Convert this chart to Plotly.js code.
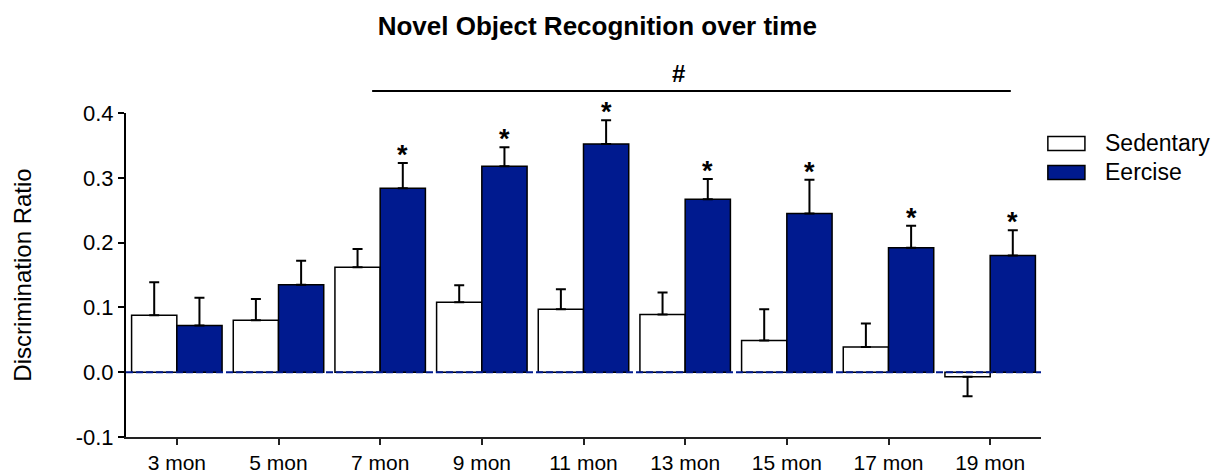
<!DOCTYPE html>
<html>
<head>
<meta charset="utf-8">
<script src="https://cdn.plot.ly/plotly-3.0.1.min.js"></script>
<style>html,body{margin:0;padding:0;background:#fff;}#chart{width:1219px;height:476px;}</style>
</head>
<body>
<div id="chart"></div>
<script>
const categories = ['3 mon','5 mon','7 mon','9 mon','11 mon','13 mon','15 mon','17 mon','19 mon'];
const sedentary = [0.088, 0.080, 0.162, 0.108, 0.097, 0.089, 0.049, 0.039, -0.007];
const sedentaryErr = [0.051, 0.033, 0.028, 0.026, 0.031, 0.034, 0.048, 0.036, 0.030];
const exercise = [0.072, 0.135, 0.284, 0.318, 0.352, 0.267, 0.245, 0.192, 0.180];
const exerciseErr = [0.043, 0.037, 0.039, 0.029, 0.037, 0.031, 0.052, 0.034, 0.039];
const exerciseSig = ['', '', '*', '*', '*', '*', '*', '*', '*'];
const yTickVals = [-0.1, 0.0, 0.1, 0.2, 0.3, 0.4];
const yTickText = ['-0.1', '0.0', '0.1', '0.2', '0.3', '0.4'];

const FONT = 'Arial, "Liberation Sans", sans-serif';
const BARGAP = 0.11;

function plusOf(v, e) { return v.map((x, i) => x >= 0 ? e[i] : 0); }
function minusOf(v, e) { return v.map((x, i) => x < 0 ? e[i] : 0); }

const errStyle = {color: '#000', thickness: 2, width: 5};

const traces = [
  {
    type: 'bar', name: 'Sedentary', x: categories, y: sedentary,
    marker: {color: '#ffffff', line: {color: '#000', width: 1.5}},
    error_y: Object.assign({type: 'data', symmetric: false,
      array: plusOf(sedentary, sedentaryErr), arrayminus: minusOf(sedentary, sedentaryErr)}, errStyle)
  },
  {
    type: 'bar', name: 'Eercise', x: categories, y: exercise,
    marker: {color: '#001a8f', line: {color: '#000', width: 1.5}},
    error_y: Object.assign({type: 'data', symmetric: false,
      array: plusOf(exercise, exerciseErr), arrayminus: minusOf(exercise, exerciseErr)}, errStyle)
  }
];

const offset = (1 - BARGAP) / 4;
const annotations = [];
exerciseSig.forEach((s, i) => {
  if (!s) return;
  annotations.push({
    x: i + offset, xref: 'x', y: exercise[i] + exerciseErr[i], yref: 'y',
    text: '<b>' + s + '</b>', showarrow: false, xanchor: 'center', yanchor: 'bottom',
    yshift: -9, font: {family: FONT, size: 27, color: '#000'}
  });
});
annotations.push({
  x: 0.6035, xref: 'paper', y: 1.1225, yref: 'paper', text: '<b>#</b>', showarrow: false,
  xanchor: 'center', yanchor: 'middle', font: {family: FONT, size: 24, color: '#000'}
});

// custom legend (wide box swatches) built from the traces
const shapes = [
  {type: 'line', xref: 'paper', x0: 0, x1: 1, yref: 'y', y0: 0, y1: 0,
   line: {color: '#001a8f', width: 2, dash: '7px,3px'}, layer: 'above'},
  {type: 'line', xref: 'paper', x0: 0.269, x1: 0.967, yref: 'paper', y0: 1.068, y1: 1.068,
   line: {color: '#000', width: 2}}
];
const legTop = 0.906, legStep = 0.0895, swH = 0.0215;
traces.forEach((t, i) => {
  const yc = legTop - i * legStep;
  shapes.push({type: 'rect', xref: 'paper', yref: 'paper', x0: 1.0075, x1: 1.048, y0: yc - swH, y1: yc + swH,
               fillcolor: t.marker.color, line: {color: '#000', width: 1.5}});
  annotations.push({x: 1.068, xref: 'paper', y: yc, yref: 'paper', text: t.name, showarrow: false,
                    xanchor: 'left', yanchor: 'middle', font: {family: FONT, size: 23, color: '#000'}});
});

const layout = {
  width: 1219, height: 476,
  margin: {l: 126, r: 178, t: 113, b: 39},
  paper_bgcolor: '#fff', plot_bgcolor: '#fff',
  font: {family: FONT, color: '#000'},
  title: {text: '<b>Novel Object Recognition over time</b>', x: 0.49, xref: 'container', xanchor: 'center',
          y: 0.945, yref: 'container', yanchor: 'middle', font: {family: FONT, size: 26, color: '#000'}},
  barmode: 'group', bargap: BARGAP, bargroupgap: 0,
  showlegend: false,
  xaxis: {
    type: 'category', range: [-0.5, 8.5], showgrid: false, zeroline: false,
    showline: true, linecolor: '#222', linewidth: 2,
    ticks: 'outside', ticklen: 6, tickwidth: 2, tickcolor: '#222',
    tickfont: {family: FONT, size: 21, color: '#000'}, fixedrange: true
  },
  yaxis: {
    range: [-0.1, 0.4], showgrid: false, zeroline: false,
    showline: true, linecolor: '#000', linewidth: 2,
    ticks: 'outside', ticklen: 6, tickwidth: 2, tickcolor: '#000',
    tickvals: yTickVals, ticktext: yTickText,
    tickfont: {family: FONT, size: 22, color: '#000'},
    title: {text: 'Discrimination Ratio', font: {family: FONT, size: 24, color: '#000'}, standoff: 37}
  },
  shapes: shapes,
  annotations: annotations
};

Plotly.newPlot('chart', traces, layout, {displayModeBar: false, staticPlot: true});
</script>
</body>
</html>
